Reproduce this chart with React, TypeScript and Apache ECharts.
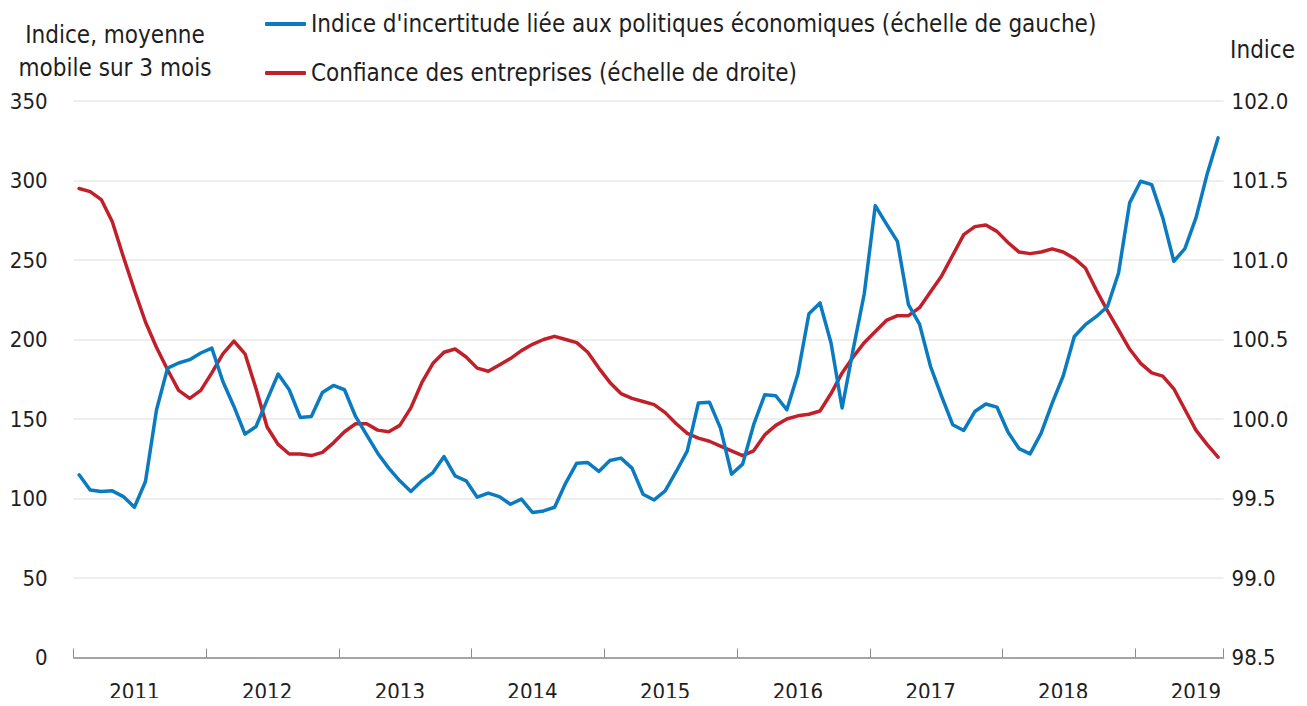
import React, { useEffect, useRef } from "react";
import * as echarts from "echarts";

const YEARS = ["2011", "2012", "2013", "2014", "2015", "2016", "2017", "2018", "2019"];
const MONTHS = ["01", "02", "03", "04", "05", "06", "07", "08", "09", "10", "11", "12"];
const N_MONTHS = 104; // Jan 2011 – Aug 2019

const uncertainty = [
  114.9, 105.4, 104.4, 104.8, 101.2, 94.5, 110.7, 155.8, 182.0, 185.2, 187.3, 191.5,
  194.6, 173.6, 157.9, 140.5, 145.3, 162.0, 178.3, 168.4, 151.0, 151.6, 166.7, 171.1,
  168.4, 151.6, 140.0, 128.5, 119.1, 111.1, 104.4, 111.1, 116.3, 126.4, 114.2, 111.1,
  100.8, 103.4, 101.2, 96.4, 99.6, 91.2, 92.2, 94.5, 109.7, 122.2, 122.6, 117.0,
  123.9, 125.4, 119.1, 102.7, 99.1, 104.8, 117.0, 130.0, 160.0, 160.6, 144.3, 115.3,
  121.6, 146.4, 165.2, 164.6, 155.8, 178.3, 216.2, 223.0, 197.8, 156.9, 193.8, 228.6,
  284.2, 272.7, 261.7, 221.9, 209.7, 183.0, 164.2, 146.4, 142.8, 154.7, 159.4, 157.5,
  141.8, 131.4, 128.1, 141.1, 160.0, 177.2, 201.9, 209.3, 214.5, 220.8, 241.8, 285.9,
  299.5, 297.4, 276.5, 249.2, 257.1, 276.5, 303.7, 326.8,
];

const confidence = [
  101.45, 101.43, 101.38, 101.24, 101.02, 100.81, 100.61, 100.45, 100.31, 100.18, 100.13, 100.18,
  100.29, 100.41, 100.49, 100.41, 100.19, 99.95, 99.84, 99.78, 99.78, 99.77, 99.79, 99.85,
  99.92, 99.97, 99.97, 99.93, 99.92, 99.96, 100.07, 100.23, 100.35, 100.42, 100.44, 100.39,
  100.32, 100.30, 100.34, 100.38, 100.43, 100.47, 100.50, 100.52, 100.50, 100.48, 100.42, 100.32,
  100.23, 100.16, 100.13, 100.11, 100.09, 100.04, 99.97, 99.91, 99.88, 99.86, 99.83, 99.80,
  99.77, 99.80, 99.90, 99.96, 100.00, 100.02, 100.03, 100.05, 100.16, 100.29, 100.39, 100.48,
  100.55, 100.62, 100.65, 100.65, 100.70, 100.80, 100.90, 101.03, 101.16, 101.21, 101.22, 101.18,
  101.11, 101.05, 101.04, 101.05, 101.07, 101.05, 101.01, 100.95, 100.81, 100.68, 100.56, 100.44,
  100.35, 100.29, 100.27, 100.19, 100.06, 99.93, 99.84, 99.76,
];

const SERIES_UNC = "Indice d'incertitude liée aux politiques économiques (échelle de gauche)";
const SERIES_CONF = "Confiance des entreprises (échelle de droite)";
const LEFT_TITLE = ["Indice, moyenne", "mobile sur 3 mois"];
const RIGHT_TITLE = "Indice";

const categories: string[] = [];
YEARS.forEach((y) => MONTHS.forEach((m) => categories.push(`${y}-${m}`)));
const cats = categories.slice(0, N_MONTHS);

const FONT = "'DejaVu Sans Condensed', 'Liberation Sans Narrow', sans-serif";
const TXT = "#1e1e1e";
const BLUE = "#0a7bc1";
const RED = "#c1202b";

export default function App() {
  const ref = useRef<HTMLDivElement>(null);
  useEffect(() => {
    if (!ref.current) return;
    const chart = echarts.init(ref.current, null, { renderer: "svg" });
    const legendBase = {
      left: 260,
      icon: "roundRect",
      itemWidth: 41,
      itemHeight: 4,
      textStyle: { fontFamily: FONT, fontSize: 24, color: TXT },
    };
    chart.setOption({
      animation: false,
      backgroundColor: "#ffffff",
      textStyle: { fontFamily: FONT },
      grid: { left: 73.6, right: 83.4, top: 101, bottom: 48.5, containLabel: false },
      legend: [
        { ...legendBase, data: [SERIES_UNC], top: 7 },
        { ...legendBase, data: [SERIES_CONF], top: 56 },
      ],
      xAxis: {
        type: "category",
        data: cats,
        boundaryGap: true,
        axisLine: { lineStyle: { color: "#8c8c8c", width: 1.5 } },
        axisTick: {
          show: true,
          inside: true,
          length: 9,
          alignWithLabel: false,
          interval: (i: number) => i % 12 === 0,
          lineStyle: { color: "#8c8c8c", width: 1 },
        },
        axisLabel: {
          interval: (i: number) => i % 12 === 5,
          formatter: (v: string) => v.slice(0, 4),
          fontFamily: FONT,
          fontSize: 22,
          color: TXT,
          margin: 23,
        },
        splitLine: { show: false },
      },
      yAxis: [
        {
          type: "value",
          min: 0,
          max: 350,
          interval: 50,
          position: "left",
          axisLine: { show: false },
          axisTick: { show: false },
          axisLabel: { fontFamily: FONT, fontSize: 22, color: TXT, margin: 26 },
          splitLine: { show: true, lineStyle: { color: "#e8e8e8", width: 1.5 } },
        },
        {
          type: "value",
          min: 98.5,
          max: 102,
          interval: 0.5,
          position: "right",
          axisLine: { show: false },
          axisTick: { show: false },
          axisLabel: {
            fontFamily: FONT,
            fontSize: 22,
            color: TXT,
            margin: 8,
            formatter: (v: number) => v.toFixed(1),
          },
          splitLine: { show: false },
        },
      ],
      graphic: [
        {
          type: "text",
          x: 115,
          y: 35,
          style: {
            text: LEFT_TITLE[0],
            fontFamily: FONT,
            fontSize: 24,
            fill: TXT,
            align: "center",
            verticalAlign: "middle",
          },
        },
        {
          type: "text",
          x: 115,
          y: 68,
          style: {
            text: LEFT_TITLE[1],
            fontFamily: FONT,
            fontSize: 24,
            fill: TXT,
            align: "center",
            verticalAlign: "middle",
          },
        },
        {
          type: "text",
          x: 1295,
          y: 50,
          style: {
            text: RIGHT_TITLE,
            fontFamily: FONT,
            fontSize: 24,
            fill: TXT,
            align: "right",
            verticalAlign: "middle",
          },
        },
      ],
      series: [
        {
          name: SERIES_UNC,
          type: "line",
          yAxisIndex: 0,
          data: uncertainty,
          showSymbol: false,
          symbol: "none",
          lineStyle: { color: BLUE, width: 3.5, cap: "round", join: "round" },
          itemStyle: { color: BLUE },
          z: 3,
        },
        {
          name: SERIES_CONF,
          type: "line",
          yAxisIndex: 1,
          data: confidence,
          showSymbol: false,
          symbol: "none",
          lineStyle: { color: RED, width: 3.5, cap: "round", join: "round" },
          itemStyle: { color: RED },
          z: 2,
        },
      ],
    });
    return () => chart.dispose();
  }, []);
  return <div ref={ref} style={{ width: 1307, height: 706, margin: -8 }} />;
}
